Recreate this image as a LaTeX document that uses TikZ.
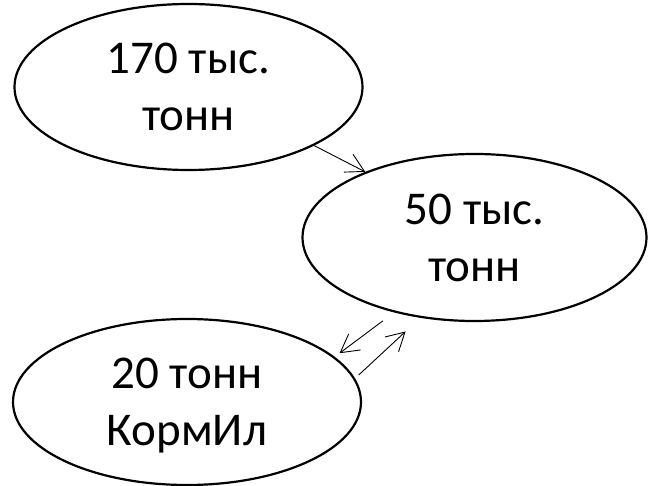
\documentclass[tikz,border=0pt]{standalone}
\usepackage{fontspec}
\setmainfont{Carlito}
\usetikzlibrary{shapes.geometric,arrows.meta}
\begin{document}
\begin{tikzpicture}[x=1pt,y=-1pt,
  blob/.style={draw=black,line width=2.2pt,shape=ellipse,inner sep=0pt,
    minimum width=348pt,minimum height=166pt,align=center,
    font=\fontsize{47pt}{57pt}\selectfont,text depth=0pt},
  flow/.style={draw=black,line width=0.9pt,-{Straight Barb[length=18pt,width=20pt,line width=0.9pt]}}]
\useasboundingbox (0,0) rectangle (648,486);
\node[blob] (top) at (188.5,87) {170 тыс.\\тонн};
\node[blob,minimum width=344pt,minimum height=167pt] (mid) at (474.5,237.5) {50 тыс.\\тонн};
\node[blob] (bot) at (187,402) {20 тонн\\КормИл};
\draw[flow] (top.-25.2) -- (mid.149);
\draw[flow,shorten <=14pt,shorten >=6pt] (mid.-137.7) -- (bot.17.8);
\draw[flow,shorten <=5pt,shorten >=20pt] (bot.8.7) -- (mid.-124.2);
\end{tikzpicture}
\end{document}
